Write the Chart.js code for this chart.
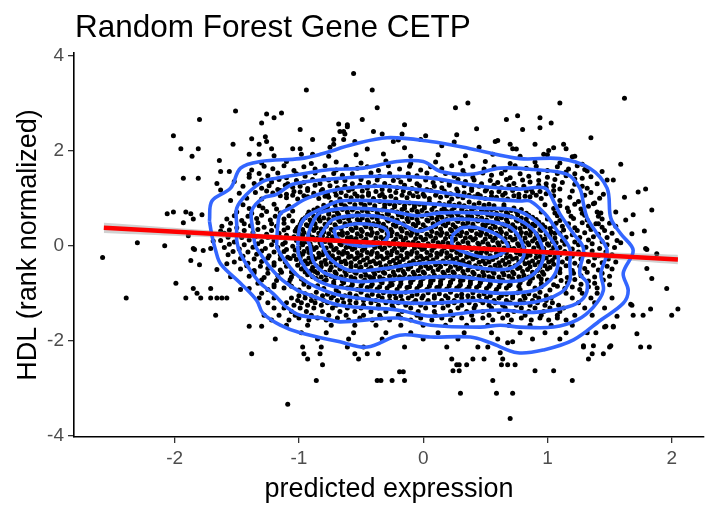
<!DOCTYPE html>
<html><head><meta charset="utf-8">
<script src="https://cdn.jsdelivr.net/npm/chart.js@4.4.0/dist/chart.umd.min.js"></script>
<style>html,body{margin:0;padding:0;background:#fff;}#wrap{width:719px;height:512px;}</style>
</head><body><div id="wrap"><canvas id="c" width="719" height="512"></canvas></div>
<script>
const chartTitle = "Random Forest Gene CETP";
const xAxisTitle = "predicted expression";
const yAxisTitle = "HDL (rank normalized)";
const xTicks = [-2,-1,0,1,2];
const yTicks = [-4,-2,0,2,4];

const outlierPoints = [[-0.56,3.62],[-0.94,3.27],[-1.51,2.83],[-1.26,2.77],[-1.14,2.79],[-1.20,2.69],[-1.30,2.58],[-1.80,2.65],[-2.01,2.31],[-1.95,2.04],[-1.86,1.88],[-1.81,2.04],[-1.93,1.42],[-1.81,1.42],[-1.64,1.79],[-1.63,1.56],[-1.56,1.56],[-1.63,1.17],[-1.66,1.31],[-1.53,2.13],[-1.38,2.25],[-1.32,2.13],[-1.27,2.29],[-1.26,2.19],[-1.22,2.04],[-1.40,1.92],[-1.32,1.92],[-0.99,2.44],[-0.99,2.04],[-0.89,2.23],[-0.89,1.92],[-0.68,2.56],[-0.64,2.40],[-0.61,2.50],[-0.72,2.13],[-0.64,2.23],
[-2.06,0.67],[-2.01,0.71],[-1.91,0.71],[-1.87,0.67],[-1.93,0.48],[-1.85,0.56],[-1.78,0.65],[-2.30,0.06],[-2.08,0.00],[-1.85,-0.06],[-1.77,-0.10],[-1.71,-0.06],[-1.63,0.31],[-1.69,0.10],[-1.89,0.21],
[-2.58,-0.25],[-2.39,-1.10],[-1.99,-0.79],[-1.87,-0.31],[-1.80,-0.40],[-1.91,-1.10],[-1.85,-0.90],[-1.82,-1.00],[-1.79,-1.10],[-1.71,-0.90],[-1.66,-1.10],[-1.62,-1.10],[-1.67,-1.46],[-1.40,-1.69],[-1.30,-1.69],[-1.38,-2.27],[-1.19,-1.96],[-0.97,-2.13],[-0.96,-2.27],[-0.93,-2.38],[-0.82,-2.13],[-0.83,-2.27],[-0.81,-2.50],[-0.86,-2.83],[-1.09,-3.33],[-1.58,-0.38],[-1.66,-0.50],[-1.47,-0.92],[-1.55,-0.65],[-1.84,-0.08],[-1.58,-1.10],[-1.71,-1.10],
[-0.15,-2.13],[-0.55,-2.27],[-0.52,-2.38],[-0.45,-2.27],[-0.36,-2.27],[-0.61,-2.13],[-0.48,-2.13],[-0.19,-2.65],[-0.16,-2.65],[-0.37,-2.83],[-0.34,-2.83],[-0.25,-2.83],[-0.15,-2.83],[0.19,-2.13],[0.23,-2.38],[0.27,-2.50],[0.29,-2.50],[0.35,-2.50],[0.24,-2.63],[0.29,-2.63],[0.40,-2.38],[0.49,-2.38],[0.44,-2.13],[0.52,-2.13],[0.62,-2.25],[0.64,-2.38],[0.63,-2.50],[0.68,-2.50],[0.74,-2.50],[0.56,-2.83],[0.30,-3.10],[0.59,-3.10],[0.72,-3.10],[0.70,-3.63],[0.68,-2.04],[0.72,-2.02],
[1.20,-2.83],[1.05,-2.63],[0.90,-2.63],[1.33,-2.38],[1.36,-2.27],[1.45,-2.27],[1.51,-2.10],[1.29,-2.10],[1.37,-2.10],[1.75,-2.13],[1.82,-2.13],[1.72,-1.85],[1.47,-1.69],[1.53,-1.69],[1.69,-1.46],[1.77,-1.46],[1.83,-1.33],[2.00,-1.46],[2.05,-1.33],[1.96,-0.90],[1.84,-0.69],[1.80,-0.48],[1.56,-1.48],[1.68,-1.25],[1.80,-0.08],[1.88,-0.17],[1.67,-1.23],[1.53,-1.71],[1.46,-1.71],[1.50,-2.13],[1.39,-1.83],[1.32,-1.83],[1.29,-2.13],
[1.62,3.10],[1.10,3.00],[0.76,2.73],[0.67,2.65],[0.94,2.69],[1.03,2.58],[0.80,2.44],[0.94,2.48],[1.35,2.27],[0.70,2.13],[0.90,2.13],[1.13,2.13],[1.01,2.00],[1.15,2.04],[0.97,1.92],[1.22,1.88],[1.59,1.71],[1.44,1.56],[1.48,1.38],[1.53,1.38],[1.62,1.02],[1.73,1.13],[1.79,1.19],[1.84,0.75],[1.69,0.65],[1.55,0.71],[1.63,0.54],[1.78,0.31],[1.68,0.25],[1.79,-0.06],[1.59,0.06],[1.41,0.46],[1.43,0.69],[1.37,0.88],[1.32,1.21],
[-0.41,3.27],[-0.37,2.90],[-0.49,2.65],[0.26,2.90],[0.36,3.00],[-0.15,2.54],[0.43,2.46],[0.27,2.33],[0.02,2.31],[-0.02,2.23],[0.58,2.19],[-0.40,2.40],[-0.33,2.35],[-0.17,2.35],[-0.61,2.54],[-0.67,2.40],[-0.63,2.35],[-0.72,2.23],[0.72,2.04],[-0.24,2.19],[0.15,2.10]];

const ringPoints = [
[-1.10,1.01],[-1.01,0.98],[-0.93,1.03],[-0.84,0.99],[-0.76,1.02],[-0.67,0.98],[-0.58,1.01],[-0.49,1.03],[-0.40,0.99],[-0.31,1.02],[-0.22,0.98],[-0.13,1.01],[-0.04,1.03],[0.05,0.99],[0.14,1.02],[0.23,0.98],[0.32,1.01],[0.41,1.03],[0.50,0.99],[0.59,1.02],[0.68,0.98],[0.77,1.01],[0.86,1.03],[0.95,0.99],
[-1.21,1.11],[-1.10,1.08],[-0.99,1.13],[-0.88,1.10],[-0.77,1.08],[-0.66,1.12],[-0.55,1.09],[-0.44,1.11],[-0.33,1.08],[-0.22,1.12],[-0.11,1.10],[0.00,1.08],[0.11,1.12],[0.22,1.09],[0.33,1.11],[0.44,1.08],[0.55,1.12],[0.66,1.10],[0.77,1.08],[0.88,1.12],[0.99,1.09],
[-1.30,1.21],[-1.17,1.18],[-1.05,1.23],[-0.93,1.20],[-0.81,1.18],[-0.69,1.22],[-0.57,1.19],[-0.45,1.21],[-0.33,1.18],[-0.21,1.22],[-0.09,1.20],[0.03,1.18],[0.15,1.22],[0.27,1.19],[0.39,1.21],[0.51,1.18],[0.63,1.22],[0.75,1.20],[0.87,1.18],[0.99,1.22],[1.10,1.19],
[-1.36,1.31],[-1.22,1.34],[-1.09,1.30],[-0.96,1.33],[-0.83,1.31],[-0.70,1.35],[-0.57,1.30],[-0.44,1.33],[-0.31,1.31],[-0.18,1.34],[-0.05,1.30],[0.08,1.33],[0.21,1.31],[0.34,1.35],[0.47,1.30],[0.60,1.33],[0.73,1.31],[0.86,1.34],[0.99,1.30],[1.12,1.33],[1.22,1.29],
[-1.40,1.44],[-1.25,1.47],[-1.10,1.43],[-0.95,1.46],[-0.80,1.44],[-0.65,1.48],[-0.50,1.43],[-0.35,1.46],[-0.20,1.44],[-0.05,1.47],[0.10,1.43],[0.25,1.46],[0.40,1.44],[0.55,1.48],[0.70,1.43],[0.85,1.46],[1.00,1.44],[1.15,1.47],[1.28,1.42],
[-1.38,1.59],[-1.21,1.62],[-1.04,1.58],[-0.87,1.61],[-0.70,1.59],[-0.53,1.63],[-0.36,1.58],[-0.19,1.61],[-0.02,1.59],[0.15,1.62],[0.32,1.58],[0.49,1.61],[0.66,1.59],[0.83,1.63],[1.00,1.58],[1.17,1.61],[1.32,1.57],
[-1.30,1.74],[-1.10,1.77],[-0.90,1.73],[-0.70,1.76],[-0.50,1.74],[-0.30,1.78],[-0.10,1.73],[0.10,1.76],[0.30,1.74],[0.50,1.77],[0.70,1.73],[0.90,1.76],[1.10,1.74],[1.28,1.71],
[-1.20,1.89],[-0.98,1.92],[-0.76,1.88],[-0.54,1.91],[-0.32,1.93],[-0.10,1.88],[0.12,1.91],[0.34,1.89],[0.56,1.92],[0.78,1.88],[1.00,1.91],[1.20,1.87],
[-1.05,2.04],[-0.75,2.07],[-0.45,2.03],[-0.15,2.06],[0.45,2.07],[0.75,2.03],[1.05,2.06],[-0.55,2.19],[-0.20,2.22],[0.25,2.18],[0.60,2.21],
[-0.95,-1.01],[-0.86,-0.98],[-0.77,-1.02],[-0.68,-0.99],[-0.59,-1.01],[-0.50,-0.98],[-0.41,-1.02],[-0.32,-0.99],[-0.23,-1.01],[-0.14,-0.98],[-0.05,-1.02],[0.04,-0.99],[0.13,-1.01],[0.22,-0.98],[0.31,-1.02],[0.40,-0.99],[0.49,-1.01],[0.58,-0.98],[0.67,-1.02],[0.76,-0.99],[0.85,-1.01],[0.94,-0.98],
[-1.06,-1.1],[-0.95,-1.1],[-0.86,-1.1],[-0.74,-1.1],[-0.65,-1.1],[-0.53,-1.1],[-0.44,-1.1],[-0.33,-1.1],[-0.22,-1.1],[-0.12,-1.1],[-0.01,-1.1],[0.09,-1.1],[0.2,-1.1],[0.31,-1.1],[0.4,-1.1],[0.51,-1.1],[0.61,-1.1],[0.72,-1.1],[0.82,-1.1],[0.93,-1.1],[1.03,-1.1],
[-1.1,-1.2],[-0.98,-1.2],[-0.87,-1.2],[-0.77,-1.2],[-0.64,-1.2],[-0.54,-1.2],[-0.42,-1.2],[-0.3,-1.2],[-0.2,-1.2],[-0.08,-1.2],[0.03,-1.2],[0.15,-1.2],[0.25,-1.2],[0.37,-1.2],[0.48,-1.2],[0.58,-1.2],[0.7,-1.2],[0.81,-1.2],[0.92,-1.2],[1.04,-1.2],
[-1.12,-1.31],[-0.99,-1.31],[-0.88,-1.31],[-0.73,-1.31],[-0.61,-1.31],[-0.5,-1.31],[-0.36,-1.31],[-0.24,-1.31],[-0.1,-1.31],[0.02,-1.31],[0.16,-1.31],[0.28,-1.31],[0.41,-1.31],[0.55,-1.31],[0.66,-1.31],[0.79,-1.31],[0.9,-1.31],[1.02,-1.31],[1.13,-1.31],
[-1.16,-1.46],[-1.03,-1.46],[-0.9,-1.46],[-0.76,-1.46],[-0.62,-1.46],[-0.48,-1.46],[-0.35,-1.46],[-0.2,-1.46],[-0.05,-1.46],[0.1,-1.46],[0.24,-1.46],[0.39,-1.46],[0.53,-1.46],[0.68,-1.46],[0.82,-1.46],[0.95,-1.46],[1.08,-1.46],
[-1.08,-1.56],[-0.92,-1.56],[-0.78,-1.56],[-0.6,-1.56],[-0.41,-1.56],[-0.27,-1.56],[-0.1,-1.56],[0.07,-1.56],[0.22,-1.56],[0.4,-1.56],[0.56,-1.56],[0.71,-1.56],[0.87,-1.56],[1.01,-1.56],[1.15,-1.56],
[-1.1,-1.67],[-0.93,-1.67],[-0.74,-1.67],[-0.55,-1.67],[-0.38,-1.67],[-0.18,-1.67],[0.0,-1.67],[0.18,-1.67],[0.35,-1.67],[0.52,-1.67],[0.69,-1.67],[0.86,-1.67],[1.03,-1.67],[1.2,-1.67],
[-0.98,-1.83],[-0.78,-1.83],[-0.56,-1.83],[-0.3,-1.83],[-0.1,-1.83],[0.12,-1.83],[0.33,-1.83],[0.55,-1.83],[0.78,-1.83],[0.98,-1.83],[1.15,-1.83],
[-0.85,-1.96],[-0.6,-1.96],[-0.33,-1.96],[0.0,-1.96],[0.28,-1.96],[0.6,-1.96],[0.88,-1.96],[1.1,-1.96],
[-1.45,0.86],[-1.32,0.84],[-1.2,0.87],[-1.08,0.83],[-1.5,0.71],[-1.38,0.68],[-1.26,0.72],[-1.15,0.69],[-1.05,0.73],[-1.58,0.56],[-1.46,0.53],[-1.34,0.57],[-1.23,0.54],[-1.12,0.56],[-1.05,0.52],
[-1.62,0.41],[-1.5,0.38],[-1.39,0.42],[-1.28,0.39],[-1.18,0.41],[-1.09,0.38],[-1.6,0.26],[-1.48,0.23],[-1.37,0.27],[-1.26,0.24],[-1.16,0.26],[-1.1,0.22],[-1.63,0.11],[-1.52,0.08],[-1.4,0.12],[-1.3,0.09],[-1.2,0.11],[-1.11,0.07],
[-1.6,-0.04],[-1.48,-0.07],[-1.37,-0.03],[-1.27,-0.06],[-1.17,-0.04],[-1.1,-0.08],[-1.57,-0.19],[-1.45,-0.22],[-1.34,-0.18],[-1.24,-0.21],[-1.15,-0.19],[-1.09,-0.24],[-1.52,-0.34],[-1.41,-0.37],[-1.3,-0.33],[-1.2,-0.36],[-1.11,-0.34],
[-1.47,-0.49],[-1.36,-0.52],[-1.25,-0.48],[-1.15,-0.51],[-1.06,-0.55],[-1.4,-0.64],[-1.28,-0.67],[-1.17,-0.63],[-1.06,-0.66],[-0.98,-0.7],[-1.33,-0.79],[-1.2,-0.82],[-1.08,-0.78],[-0.96,-0.81],[-0.85,-0.84],[-1.25,-0.92],[-1.12,-0.89],[-1.0,-0.93],[-0.8,-0.9],[-0.7,-0.93],
[0.98,0.86],[1.1,0.84],[1.22,0.87],[1.33,0.83],[0.95,0.71],[1.06,0.69],[1.17,0.72],[1.28,0.68],[1.4,0.71],[1.0,0.56],[1.1,0.53],[1.21,0.57],[1.32,0.54],[1.44,0.56],
[1.12,0.41],[1.22,0.38],[1.33,0.42],[1.44,0.39],[1.55,0.41],[1.1,0.26],[1.2,0.23],[1.3,0.27],[1.41,0.24],[1.52,0.26],[1.12,0.11],[1.22,0.08],[1.33,0.12],[1.44,0.09],[1.56,0.11],
[1.1,-0.04],[1.2,-0.07],[1.31,-0.03],[1.42,-0.06],[1.54,-0.04],[1.1,-0.19],[1.2,-0.22],[1.3,-0.18],[1.41,-0.21],[1.52,-0.19],[1.12,-0.34],[1.22,-0.37],[1.33,-0.33],[1.44,-0.36],[1.55,-0.34],
[1.1,-0.49],[1.2,-0.52],[1.3,-0.48],[1.41,-0.51],[1.52,-0.49],[1.06,-0.64],[1.16,-0.67],[1.27,-0.63],[1.38,-0.66],[1.5,-0.64],[0.95,-0.79],[1.05,-0.82],[1.16,-0.78],[1.27,-0.81],[1.38,-0.79],[1.5,-0.82],[0.78,-0.92],[0.9,-0.89],[1.02,-0.93],[1.14,-0.9],[1.26,-0.92],[1.4,-0.89],
[1.05,1.05],[1.18,1.02],[1.3,1.06],[1.42,1.0],[1.1,0.95],[1.25,0.93],[1.38,0.9],[1.2,1.15],[1.35,1.12],[1.45,1.08],[1.28,1.25],[1.4,1.3],[1.22,1.4],[1.35,1.45],[1.15,1.55],[1.3,1.6],
[1.15,-1.0],[1.28,-1.0],[1.4,-1.0],[1.52,-1.1],[1.35,-1.1],[1.2,-1.1],[1.25,-1.2],[1.38,-1.2],[1.46,-1.31],[1.3,-1.31],[1.22,-1.46],[1.36,-1.46],
[-1.3,-1.0],[-1.4,-0.9],[-1.2,-1.1],[-1.32,-1.1],[-1.25,-1.2],[-1.2,-1.31],[-1.28,-1.46],[-1.22,-1.56],
[-1.55,0.95],[-1.42,1.0],[-1.3,0.98],[-1.48,1.1],[-1.35,1.12],[-1.45,1.25],[-1.52,1.35],[-1.4,1.5]];

const ringFillPoints = [
[-1.15,1.05],[-1.05,1.06],[-0.96,1.05],[-0.88,1.06],[-0.79,1.04],[-0.70,1.06],[-0.62,1.05],[-0.53,1.04],[-0.44,1.06],[-0.35,1.05],[-0.26,1.04],[-0.17,1.06],[-0.08,1.05],[0.01,1.04],[0.10,1.06],[0.19,1.05],[0.28,1.04],[0.37,1.06],[0.46,1.05],[0.55,1.04],[0.64,1.06],[0.73,1.05],[0.82,1.04],[0.91,1.06],
[-1.26,1.15],[-1.15,1.16],[-1.04,1.14],[-0.93,1.16],[-0.82,1.15],[-0.71,1.14],[-0.60,1.16],[-0.49,1.15],[-0.38,1.14],[-0.27,1.16],[-0.16,1.15],[-0.05,1.14],[0.06,1.16],[0.17,1.15],[0.28,1.14],[0.39,1.16],[0.50,1.15],[0.61,1.14],[0.72,1.16],[0.83,1.15],[0.94,1.14],[1.05,1.16],
[-1.24,1.26],[-1.11,1.27],[-0.99,1.25],[-0.87,1.27],[-0.75,1.26],[-0.63,1.25],[-0.51,1.27],[-0.39,1.26],[-0.27,1.25],[-0.15,1.27],[-0.03,1.26],[0.09,1.25],[0.21,1.27],[0.33,1.26],[0.45,1.25],[0.57,1.27],[0.69,1.26],[0.81,1.25],[0.93,1.27],[1.05,1.26],
[-1.30,1.38],[-1.16,1.39],[-1.02,1.37],[-0.89,1.39],[-0.76,1.38],[-0.63,1.37],[-0.50,1.39],[-0.37,1.38],[-0.24,1.37],[-0.11,1.39],[0.02,1.38],[0.15,1.37],[0.28,1.39],[0.41,1.38],[0.54,1.37],[0.67,1.39],[0.80,1.38],[0.93,1.37],[1.06,1.39],
[-1.32,1.52],[-1.17,1.53],[-1.02,1.51],[-0.87,1.53],[-0.72,1.52],[-0.57,1.51],[-0.42,1.53],[-0.27,1.52],[-0.12,1.51],[0.03,1.53],[0.18,1.52],[0.33,1.51],[0.48,1.53],[0.63,1.52],[0.78,1.51],[0.93,1.53],[1.08,1.52],[1.22,1.51],
[-1.28,1.67],[-1.12,1.68],[-0.96,1.66],[-0.79,1.68],[-0.62,1.67],[-0.45,1.66],[-0.28,1.68],[-0.11,1.67],[0.06,1.66],[0.23,1.68],[0.40,1.67],[0.57,1.66],[0.74,1.68],[0.91,1.67],[1.08,1.66],[1.24,1.68],
[-1.00,-1.05],[-0.90,-1.05],[-0.81,-1.05],[-0.72,-1.05],[-0.63,-1.05],[-0.54,-1.05],[-0.45,-1.05],[-0.36,-1.05],[-0.27,-1.05],[-0.18,-1.05],[-0.09,-1.05],[0.00,-1.05],[0.09,-1.05],[0.18,-1.05],[0.27,-1.05],[0.36,-1.05],[0.45,-1.05],[0.54,-1.05],[0.63,-1.05],[0.72,-1.05],[0.81,-1.05],[0.90,-1.05],[0.99,-1.05],
[-1.01,-1.15],[-0.90,-1.15],[-0.80,-1.15],[-0.69,-1.15],[-0.59,-1.15],[-0.48,-1.15],[-0.38,-1.15],[-0.27,-1.15],[-0.17,-1.15],[-0.06,-1.15],[0.04,-1.15],[0.15,-1.15],[0.25,-1.15],[0.36,-1.15],[0.46,-1.15],[0.57,-1.15],[0.67,-1.15],[0.78,-1.15],[0.88,-1.15],[0.99,-1.15],
[-1.04,-1.25],[-0.93,-1.25],[-0.82,-1.25],[-0.70,-1.25],[-0.59,-1.25],[-0.48,-1.25],[-0.36,-1.25],[-0.25,-1.25],[-0.14,-1.25],[-0.02,-1.25],[0.09,-1.25],[0.20,-1.25],[0.31,-1.25],[0.42,-1.25],[0.53,-1.25],[0.64,-1.25],[0.75,-1.25],[0.86,-1.25],[0.98,-1.25],[1.09,-1.25],
[-1.06,-1.38],[-0.94,-1.38],[-0.81,-1.38],[-0.67,-1.38],[-0.55,-1.38],[-0.42,-1.38],[-0.30,-1.38],[-0.17,-1.38],[-0.04,-1.38],[0.09,-1.38],[0.22,-1.38],[0.35,-1.38],[0.48,-1.38],[0.61,-1.38],[0.73,-1.38],[0.85,-1.38],[0.97,-1.38],[1.10,-1.38],
[-1.00,-1.52],[-0.85,-1.52],[-0.69,-1.52],[-0.51,-1.52],[-0.34,-1.52],[-0.18,-1.52],[-0.02,-1.52],[0.15,-1.52],[0.31,-1.52],[0.48,-1.52],[0.64,-1.52],[0.79,-1.52],[0.94,-1.52],[1.08,-1.52],
[-1.40,0.78],[-1.29,0.79],[-1.18,0.77],[-1.09,0.79],[-1.52,0.63],[-1.41,0.62],[-1.30,0.64],[-1.19,0.62],[-1.08,0.63],[-1.55,0.47],[-1.44,0.46],[-1.33,0.48],[-1.22,0.46],[-1.12,0.47],[-1.56,0.33],[-1.44,0.32],[-1.33,0.34],[-1.22,0.32],[-1.12,0.33],[-1.57,0.18],[-1.46,0.17],[-1.35,0.19],[-1.25,0.17],[-1.15,0.18],[-1.56,0.03],[-1.44,0.02],[-1.33,0.04],[-1.22,0.02],[-1.13,0.03],[-1.53,-0.12],[-1.41,-0.13],[-1.30,-0.11],[-1.20,-0.13],[-1.12,-0.12],[-1.47,-0.27],[-1.36,-0.28],[-1.25,-0.26],[-1.15,-0.28],[-1.07,-0.27],[-1.42,-0.42],[-1.31,-0.43],[-1.20,-0.41],[-1.10,-0.43],[-1.36,-0.57],[-1.25,-0.58],[-1.14,-0.56],[-1.04,-0.58],[-1.30,-0.72],[-1.18,-0.73],[-1.07,-0.71],[-0.96,-0.74],[-1.20,-0.86],[-1.06,-0.85],[-0.92,-0.87],
[1.05,0.78],[1.16,0.79],[1.27,0.77],[1.08,0.63],[1.19,0.62],[1.30,0.64],[1.41,0.62],[1.07,0.47],[1.17,0.46],[1.28,0.48],[1.39,0.46],[1.50,0.47],[1.13,0.33],[1.24,0.32],[1.35,0.34],[1.46,0.32],[1.15,0.18],[1.26,0.17],[1.37,0.19],[1.48,0.17],[1.14,0.03],[1.25,0.02],[1.36,0.04],[1.48,0.02],[1.14,-0.12],[1.25,-0.13],[1.36,-0.11],[1.47,-0.13],[1.16,-0.27],[1.27,-0.28],[1.38,-0.26],[1.49,-0.28],[1.15,-0.42],[1.26,-0.43],[1.37,-0.41],[1.48,-0.43],[1.10,-0.57],[1.21,-0.58],[1.32,-0.56],[1.44,-0.58],[1.00,-0.72],[1.11,-0.73],[1.22,-0.71],[1.33,-0.74],[1.45,-0.72],[0.95,-0.86],[1.08,-0.85],[1.20,-0.87],[1.33,-0.86]];

const corePoints = [
[-0.74,0.91],[-0.66,0.88],[-0.59,0.92],[-0.50,0.89],[-0.43,0.90],[-0.35,0.93],[-0.27,0.88],[-0.19,0.91],[-0.11,0.90],[-0.03,0.87],[0.05,0.92],[0.13,0.89],[0.21,0.91],[0.29,0.88],[0.37,0.92],[0.45,0.90],[0.53,0.87],
[-0.85,0.79],[-0.77,0.82],[-0.70,0.78],[-0.62,0.81],[-0.55,0.79],[-0.47,0.83],[-0.39,0.78],[-0.31,0.80],[-0.23,0.82],[-0.15,0.78],[-0.07,0.81],[0.01,0.79],[0.09,0.83],[0.17,0.78],[0.25,0.80],[0.33,0.82],[0.41,0.79],[0.49,0.81],[0.57,0.78],[0.65,0.82],[0.73,0.79],
[-0.92,0.71],[-0.84,0.68],[-0.76,0.72],[-0.69,0.69],[-0.61,0.71],[-0.53,0.68],[-0.45,0.72],[-0.37,0.70],[-0.29,0.67],[-0.21,0.71],[-0.13,0.69],[-0.05,0.72],[0.03,0.68],[0.11,0.70],[0.19,0.72],[0.27,0.68],[0.35,0.71],[0.43,0.69],[0.51,0.72],[0.59,0.68],[0.67,0.70],[0.75,0.72],[0.83,0.68],
[-0.95,0.59],[-0.88,0.62],[-0.80,0.58],[-0.72,0.61],[-0.64,0.59],[-0.57,0.62],[-0.49,0.58],[-0.41,0.60],[-0.33,0.62],[-0.25,0.58],[-0.17,0.61],[-0.09,0.59],[-0.01,0.62],[0.07,0.58],[0.15,0.60],[0.23,0.62],[0.31,0.59],[0.39,0.61],[0.47,0.58],[0.55,0.62],[0.63,0.59],[0.71,0.61],[0.79,0.58],[0.88,0.60],
[-0.98,0.51],[-0.90,0.48],[-0.83,0.52],[-0.75,0.49],[-0.67,0.51],[-0.59,0.48],[-0.51,0.52],[-0.44,0.50],[-0.36,0.48],[-0.28,0.52],[-0.20,0.49],[-0.12,0.51],[-0.04,0.48],[0.04,0.52],[0.12,0.50],[0.20,0.48],[0.28,0.51],[0.36,0.49],[0.44,0.52],[0.52,0.48],[0.60,0.51],[0.68,0.49],[0.76,0.52],[0.84,0.48],[0.93,0.50],
[-1.01,0.39],[-0.93,0.42],[-0.86,0.38],[-0.78,0.41],[-0.70,0.39],[-0.62,0.42],[-0.54,0.38],[-0.46,0.40],[-0.38,0.42],[-0.30,0.38],[-0.22,0.41],[-0.14,0.39],[-0.06,0.42],[0.02,0.38],[0.10,0.40],[0.18,0.42],[0.26,0.39],[0.34,0.41],[0.42,0.38],[0.50,0.42],[0.58,0.39],[0.66,0.41],[0.74,0.38],[0.82,0.40],[0.90,0.42],[0.98,0.39],[1.05,0.41],
[-1.03,0.31],[-0.96,0.28],[-0.88,0.32],[-0.80,0.29],[-0.72,0.31],[-0.65,0.28],[-0.57,0.32],[-0.49,0.30],[-0.41,0.28],[-0.33,0.32],[-0.25,0.29],[-0.17,0.31],[-0.09,0.28],[-0.01,0.32],[0.07,0.30],[0.15,0.28],[0.23,0.31],[0.31,0.29],[0.39,0.32],[0.47,0.28],[0.55,0.31],[0.63,0.29],[0.71,0.32],[0.79,0.28],[0.87,0.30],[0.95,0.32],[1.03,0.29],
[-1.04,0.19],[-0.97,0.22],[-0.89,0.18],[-0.81,0.21],[-0.73,0.19],[-0.65,0.22],[-0.58,0.18],[-0.50,0.20],[-0.42,0.22],[-0.34,0.18],[-0.26,0.21],[-0.18,0.19],[-0.10,0.22],[-0.02,0.18],[0.06,0.20],[0.14,0.22],[0.22,0.19],[0.30,0.21],[0.38,0.18],[0.46,0.22],[0.54,0.19],[0.62,0.21],[0.70,0.18],[0.78,0.20],[0.86,0.22],[0.94,0.19],[1.02,0.21],
[-1.02,0.11],[-0.95,0.08],[-0.87,0.12],[-0.79,0.09],[-0.71,0.11],[-0.63,0.08],[-0.55,0.12],[-0.48,0.10],[-0.40,0.08],[-0.32,0.12],[-0.24,0.09],[-0.16,0.11],[-0.08,0.08],[0.00,0.12],[0.08,0.10],[0.16,0.08],[0.24,0.11],[0.32,0.09],[0.40,0.12],[0.48,0.08],[0.56,0.11],[0.64,0.09],[0.72,0.12],[0.80,0.08],[0.88,0.10],[0.96,0.12],[1.04,0.09],
[-1.05,-0.01],[-0.97,0.02],[-0.90,-0.02],[-0.82,0.01],[-0.74,-0.01],[-0.66,0.02],[-0.59,-0.02],[-0.51,0.00],[-0.43,0.02],[-0.35,-0.02],[-0.27,0.01],[-0.19,-0.01],[-0.11,0.02],[-0.03,-0.02],[0.05,0.00],[0.13,0.02],[0.21,-0.01],[0.29,0.01],[0.37,-0.02],[0.45,0.02],[0.53,-0.01],[0.61,0.01],[0.69,-0.02],[0.77,0.00],[0.85,0.02],[0.93,-0.01],[1.01,0.01],
[-1.03,-0.09],[-0.96,-0.12],[-0.88,-0.08],[-0.80,-0.11],[-0.72,-0.09],[-0.64,-0.12],[-0.57,-0.08],[-0.49,-0.10],[-0.41,-0.12],[-0.33,-0.08],[-0.25,-0.11],[-0.17,-0.09],[-0.09,-0.12],[-0.01,-0.08],[0.07,-0.10],[0.15,-0.12],[0.23,-0.09],[0.31,-0.11],[0.39,-0.08],[0.47,-0.12],[0.55,-0.09],[0.63,-0.11],[0.71,-0.08],[0.79,-0.10],[0.87,-0.12],[0.95,-0.09],[1.03,-0.11],
[-1.04,-0.21],[-0.97,-0.18],[-0.89,-0.22],[-0.81,-0.19],[-0.73,-0.21],[-0.65,-0.18],[-0.58,-0.22],[-0.50,-0.20],[-0.42,-0.18],[-0.34,-0.22],[-0.26,-0.19],[-0.18,-0.21],[-0.10,-0.18],[-0.02,-0.22],[0.06,-0.20],[0.14,-0.18],[0.22,-0.21],[0.30,-0.19],[0.38,-0.22],[0.46,-0.18],[0.54,-0.21],[0.62,-0.19],[0.70,-0.22],[0.78,-0.18],[0.86,-0.20],[0.94,-0.22],[1.02,-0.19],
[-1.02,-0.29],[-0.95,-0.32],[-0.87,-0.28],[-0.79,-0.31],[-0.71,-0.29],[-0.63,-0.32],[-0.55,-0.28],[-0.48,-0.30],[-0.40,-0.32],[-0.32,-0.28],[-0.24,-0.31],[-0.16,-0.29],[-0.08,-0.32],[0.00,-0.28],[0.08,-0.30],[0.16,-0.32],[0.24,-0.29],[0.32,-0.31],[0.40,-0.28],[0.48,-0.32],[0.56,-0.29],[0.64,-0.31],[0.72,-0.28],[0.80,-0.30],[0.88,-0.32],[0.96,-0.29],[1.04,-0.31],
[-1.01,-0.41],[-0.93,-0.38],[-0.86,-0.42],[-0.78,-0.39],[-0.70,-0.41],[-0.62,-0.38],[-0.54,-0.42],[-0.46,-0.40],[-0.38,-0.38],[-0.30,-0.42],[-0.22,-0.39],[-0.14,-0.41],[-0.06,-0.38],[0.02,-0.42],[0.10,-0.40],[0.18,-0.38],[0.26,-0.41],[0.34,-0.39],[0.42,-0.42],[0.50,-0.38],[0.58,-0.41],[0.66,-0.39],[0.74,-0.42],[0.82,-0.38],[0.90,-0.40],[0.98,-0.42],[1.05,-0.39],
[-0.98,-0.49],[-0.90,-0.52],[-0.83,-0.48],[-0.75,-0.51],[-0.67,-0.49],[-0.59,-0.52],[-0.51,-0.48],[-0.44,-0.50],[-0.36,-0.52],[-0.28,-0.48],[-0.20,-0.51],[-0.12,-0.49],[-0.04,-0.52],[0.04,-0.48],[0.12,-0.50],[0.20,-0.52],[0.28,-0.49],[0.36,-0.51],[0.44,-0.48],[0.52,-0.52],[0.60,-0.49],[0.68,-0.51],[0.76,-0.48],[0.84,-0.50],[0.92,-0.52],[1.00,-0.49],
[-0.93,-0.61],[-0.85,-0.58],[-0.78,-0.62],[-0.70,-0.59],[-0.62,-0.61],[-0.54,-0.58],[-0.46,-0.62],[-0.39,-0.60],[-0.31,-0.58],[-0.23,-0.62],[-0.15,-0.59],[-0.07,-0.61],[0.01,-0.58],[0.09,-0.62],[0.17,-0.60],[0.25,-0.58],[0.33,-0.61],[0.41,-0.59],[0.49,-0.62],[0.57,-0.58],[0.65,-0.61],[0.73,-0.59],[0.81,-0.62],[0.89,-0.58],[0.97,-0.60],
[-0.86,-0.69],[-0.78,-0.72],[-0.71,-0.68],[-0.63,-0.71],[-0.55,-0.69],[-0.47,-0.72],[-0.40,-0.68],[-0.32,-0.70],[-0.24,-0.72],[-0.16,-0.68],[-0.08,-0.71],[0.00,-0.69],[0.08,-0.72],[0.16,-0.68],[0.24,-0.70],[0.32,-0.72],[0.40,-0.69],[0.48,-0.71],[0.56,-0.68],[0.64,-0.72],[0.72,-0.69],[0.80,-0.71],[0.88,-0.68],[0.95,-0.70],
[-0.72,-0.81],[-0.64,-0.78],[-0.57,-0.82],[-0.49,-0.79],[-0.41,-0.81],[-0.33,-0.78],[-0.25,-0.82],[-0.18,-0.80],[-0.10,-0.78],[-0.02,-0.82],[0.06,-0.79],[0.14,-0.81],[0.22,-0.78],[0.30,-0.82],[0.38,-0.80],[0.46,-0.78],[0.54,-0.81],[0.62,-0.79],[0.70,-0.82],[0.78,-0.78],[0.85,-0.80],
[-0.61,-0.89],[-0.53,-0.92],[-0.45,-0.88],[-0.37,-0.91],[-0.29,-0.89],[-0.21,-0.92],[-0.13,-0.88],[-0.05,-0.90],[0.03,-0.92],[0.11,-0.88],[0.19,-0.91],[0.27,-0.89],[0.35,-0.92],[0.43,-0.88],[0.51,-0.90],[0.59,-0.92],[0.67,-0.89]];

const coreFillPoints = [
[-0.80,0.85],[-0.71,0.86],[-0.63,0.84],[-0.55,0.86],[-0.47,0.85],[-0.39,0.84],[-0.31,0.86],[-0.23,0.85],[-0.15,0.84],[-0.07,0.86],[0.01,0.85],[0.09,0.84],[0.17,0.86],[0.25,0.85],[0.33,0.84],[0.41,0.86],[0.49,0.85],[0.57,0.84],[0.65,0.86],
[-0.88,0.75],[-0.80,0.76],[-0.72,0.74],[-0.65,0.76],[-0.57,0.75],[-0.49,0.74],[-0.41,0.76],[-0.33,0.75],[-0.25,0.74],[-0.17,0.76],[-0.09,0.75],[-0.01,0.74],[0.07,0.76],[0.15,0.75],[0.23,0.74],[0.31,0.76],[0.39,0.75],[0.47,0.74],[0.55,0.76],[0.63,0.75],[0.71,0.74],[0.79,0.76],
[-0.93,0.65],[-0.84,0.64],[-0.76,0.66],[-0.68,0.65],[-0.60,0.64],[-0.52,0.66],[-0.44,0.65],[-0.36,0.64],[-0.28,0.66],[-0.20,0.65],[-0.12,0.64],[-0.04,0.66],[0.04,0.65],[0.12,0.64],[0.20,0.66],[0.28,0.65],[0.36,0.64],[0.44,0.66],[0.52,0.65],[0.60,0.64],[0.68,0.66],[0.76,0.65],[0.85,0.64],
[-0.97,0.55],[-0.91,0.54],[-0.84,0.56],[-0.76,0.55],[-0.68,0.54],[-0.60,0.56],[-0.53,0.55],[-0.45,0.54],[-0.37,0.56],[-0.29,0.55],[-0.21,0.54],[-0.13,0.56],[-0.05,0.55],[0.03,0.54],[0.11,0.56],[0.19,0.55],[0.27,0.54],[0.35,0.56],[0.43,0.55],[0.51,0.54],[0.59,0.56],[0.67,0.55],[0.75,0.54],[0.83,0.56],[0.91,0.55],
[-0.99,0.45],[-0.94,0.44],[-0.87,0.46],[-0.79,0.45],[-0.71,0.44],[-0.63,0.46],[-0.55,0.45],[-0.47,0.44],[-0.40,0.46],[-0.32,0.45],[-0.24,0.44],[-0.16,0.46],[-0.08,0.45],[0.00,0.44],[0.08,0.46],[0.16,0.45],[0.24,0.44],[0.32,0.46],[0.40,0.45],[0.48,0.44],[0.56,0.46],[0.64,0.45],[0.72,0.44],[0.80,0.46],[0.88,0.45],[0.96,0.44],
[-1.02,0.35],[-0.97,0.34],[-0.90,0.36],[-0.82,0.35],[-0.74,0.34],[-0.66,0.36],[-0.58,0.35],[-0.50,0.34],[-0.42,0.36],[-0.34,0.35],[-0.26,0.34],[-0.18,0.36],[-0.10,0.35],[-0.02,0.34],[0.06,0.36],[0.14,0.35],[0.22,0.34],[0.30,0.36],[0.38,0.35],[0.46,0.34],[0.54,0.36],[0.62,0.35],[0.70,0.34],[0.78,0.36],[0.86,0.35],[0.94,0.34],[1.02,0.36],
[-1.00,0.25],[-0.92,0.24],[-0.84,0.26],[-0.76,0.25],[-0.68,0.24],[-0.61,0.26],[-0.53,0.25],[-0.45,0.24],[-0.37,0.26],[-0.29,0.25],[-0.21,0.24],[-0.13,0.26],[-0.05,0.25],[0.03,0.24],[0.11,0.26],[0.19,0.25],[0.27,0.24],[0.35,0.26],[0.43,0.25],[0.51,0.24],[0.59,0.26],[0.67,0.25],[0.75,0.24],[0.83,0.26],[0.91,0.25],[0.99,0.24],[1.06,0.26],
[-1.00,0.15],[-0.93,0.14],[-0.85,0.16],[-0.77,0.15],[-0.69,0.14],[-0.61,0.16],[-0.54,0.15],[-0.46,0.14],[-0.38,0.16],[-0.30,0.15],[-0.22,0.14],[-0.14,0.16],[-0.06,0.15],[0.02,0.14],[0.10,0.16],[0.18,0.15],[0.26,0.14],[0.34,0.16],[0.42,0.15],[0.50,0.14],[0.58,0.16],[0.66,0.15],[0.74,0.14],[0.82,0.16],[0.90,0.15],[0.98,0.14],[1.06,0.16],
[-0.98,0.05],[-0.91,0.04],[-0.83,0.06],[-0.75,0.05],[-0.67,0.04],[-0.59,0.06],[-0.52,0.05],[-0.44,0.04],[-0.36,0.06],[-0.28,0.05],[-0.20,0.04],[-0.12,0.06],[-0.04,0.05],[0.04,0.04],[0.12,0.06],[0.20,0.05],[0.28,0.04],[0.36,0.06],[0.44,0.05],[0.52,0.04],[0.60,0.06],[0.68,0.05],[0.76,0.04],[0.84,0.06],[0.92,0.05],[1.00,0.04],[1.07,0.06],
[-1.00,-0.05],[-0.93,-0.06],[-0.86,-0.04],[-0.78,-0.05],[-0.70,-0.06],[-0.62,-0.04],[-0.55,-0.05],[-0.47,-0.06],[-0.39,-0.04],[-0.31,-0.05],[-0.23,-0.06],[-0.15,-0.04],[-0.07,-0.05],[0.01,-0.06],[0.09,-0.04],[0.17,-0.05],[0.25,-0.06],[0.33,-0.04],[0.41,-0.05],[0.49,-0.06],[0.57,-0.04],[0.65,-0.05],[0.73,-0.06],[0.81,-0.04],[0.89,-0.05],[0.97,-0.06],[1.05,-0.04],
[-1.00,-0.15],[-0.92,-0.14],[-0.84,-0.16],[-0.76,-0.15],[-0.68,-0.14],[-0.61,-0.16],[-0.53,-0.15],[-0.45,-0.14],[-0.37,-0.16],[-0.29,-0.15],[-0.21,-0.14],[-0.13,-0.16],[-0.05,-0.15],[0.03,-0.14],[0.11,-0.16],[0.19,-0.15],[0.27,-0.14],[0.35,-0.16],[0.43,-0.15],[0.51,-0.14],[0.59,-0.16],[0.67,-0.15],[0.75,-0.14],[0.83,-0.16],[0.91,-0.15],[0.99,-0.14],[1.06,-0.16],
[-0.99,-0.25],[-0.92,-0.26],[-0.84,-0.24],[-0.76,-0.25],[-0.68,-0.26],[-0.60,-0.24],[-0.53,-0.25],[-0.45,-0.26],[-0.37,-0.24],[-0.29,-0.25],[-0.21,-0.26],[-0.13,-0.24],[-0.05,-0.25],[0.03,-0.26],[0.11,-0.24],[0.19,-0.25],[0.27,-0.26],[0.35,-0.24],[0.43,-0.25],[0.51,-0.26],[0.59,-0.24],[0.67,-0.25],[0.75,-0.26],[0.83,-0.24],[0.91,-0.25],[0.99,-0.26],[1.06,-0.24],
[-0.98,-0.35],[-0.90,-0.34],[-0.82,-0.36],[-0.74,-0.35],[-0.66,-0.34],[-0.58,-0.36],[-0.51,-0.35],[-0.43,-0.34],[-0.35,-0.36],[-0.27,-0.35],[-0.19,-0.34],[-0.11,-0.36],[-0.03,-0.35],[0.05,-0.34],[0.13,-0.36],[0.21,-0.35],[0.29,-0.34],[0.37,-0.36],[0.45,-0.35],[0.53,-0.34],[0.61,-0.36],[0.69,-0.35],[0.77,-0.34],[0.85,-0.36],[0.93,-0.35],[1.01,-0.34],
[-0.96,-0.45],[-0.89,-0.46],[-0.82,-0.44],[-0.74,-0.45],[-0.66,-0.46],[-0.58,-0.44],[-0.50,-0.45],[-0.42,-0.46],[-0.34,-0.44],[-0.26,-0.45],[-0.18,-0.46],[-0.10,-0.44],[-0.02,-0.45],[0.06,-0.46],[0.14,-0.44],[0.22,-0.45],[0.30,-0.46],[0.38,-0.44],[0.46,-0.45],[0.54,-0.46],[0.62,-0.44],[0.70,-0.45],[0.78,-0.46],[0.86,-0.44],[0.94,-0.45],[1.02,-0.46],
[-0.95,-0.55],[-0.87,-0.54],[-0.79,-0.56],[-0.71,-0.55],[-0.63,-0.54],[-0.55,-0.56],[-0.47,-0.55],[-0.40,-0.54],[-0.32,-0.56],[-0.24,-0.55],[-0.16,-0.54],[-0.08,-0.56],[0.00,-0.55],[0.08,-0.54],[0.16,-0.56],[0.24,-0.55],[0.32,-0.54],[0.40,-0.56],[0.48,-0.55],[0.56,-0.54],[0.64,-0.56],[0.72,-0.55],[0.80,-0.54],[0.88,-0.56],[0.96,-0.55],
[-0.89,-0.65],[-0.82,-0.66],[-0.74,-0.64],[-0.66,-0.65],[-0.58,-0.66],[-0.50,-0.64],[-0.43,-0.65],[-0.35,-0.66],[-0.27,-0.64],[-0.19,-0.65],[-0.11,-0.66],[-0.03,-0.64],[0.05,-0.65],[0.13,-0.66],[0.21,-0.64],[0.29,-0.65],[0.37,-0.66],[0.45,-0.64],[0.53,-0.65],[0.61,-0.66],[0.69,-0.64],[0.77,-0.65],[0.85,-0.66],[0.93,-0.64],
[-0.80,-0.75],[-0.72,-0.76],[-0.65,-0.74],[-0.57,-0.75],[-0.49,-0.76],[-0.42,-0.74],[-0.34,-0.75],[-0.26,-0.76],[-0.18,-0.74],[-0.10,-0.75],[-0.02,-0.76],[0.06,-0.74],[0.14,-0.75],[0.22,-0.76],[0.30,-0.74],[0.38,-0.75],[0.46,-0.76],[0.54,-0.74],[0.62,-0.75],[0.70,-0.76],[0.78,-0.74],[0.86,-0.75],
[-0.66,-0.85],[-0.58,-0.86],[-0.50,-0.84],[-0.42,-0.85],[-0.35,-0.86],[-0.27,-0.84],[-0.19,-0.85],[-0.11,-0.86],[-0.03,-0.84],[0.05,-0.85],[0.13,-0.86],[0.21,-0.84],[0.29,-0.85],[0.37,-0.86],[0.45,-0.84],[0.53,-0.85],[0.61,-0.86],[0.69,-0.84],[0.77,-0.85]];

const contourOuter = [[-1.72,0.52],[-1.70,0.94],[-1.55,1.21],[-1.47,1.63],[-1.31,1.77],[-0.99,1.83],[-0.83,1.92],[-0.56,2.13],[-0.29,2.27],[0.06,2.19],[0.38,2.04],[0.78,1.83],[1.10,1.83],[1.34,1.63],[1.48,1.21],[1.51,0.58],[1.59,0.25],[1.69,-0.10],[1.61,-0.58],[1.65,-0.94],[1.61,-1.21],[1.43,-1.56],[1.21,-1.98],[0.97,-2.19],[0.76,-2.25],[0.54,-2.04],[0.38,-1.92],[0.06,-1.92],[-0.19,-1.88],[-0.45,-2.13],[-0.67,-2.02],[-0.99,-1.83],[-1.15,-1.67],[-1.29,-1.42],[-1.34,-1.15],[-1.47,-0.79],[-1.63,-0.38],[-1.67,-0.10],[-1.70,0.21]];
const contour7 = [[-1.50,0.42],[-1.50,0.79],[-1.42,1.08],[-1.29,1.35],[-1.18,1.42],[-0.99,1.50],[-0.75,1.60],[-0.48,1.63],[-0.21,1.77],[0.00,1.77],[0.14,1.56],[0.38,1.50],[0.62,1.63],[0.89,1.60],[1.16,1.50],[1.26,1.21],[1.29,0.88],[1.32,0.58],[1.40,0.25],[1.48,-0.10],[1.43,-0.58],[1.45,-0.94],[1.37,-1.29],[1.24,-1.56],[1.05,-1.71],[0.78,-1.71],[0.62,-1.67],[0.46,-1.71],[0.06,-1.67],[-0.21,-1.52],[-0.67,-1.60],[-0.81,-1.52],[-0.99,-1.46],[-1.10,-1.29],[-1.21,-1.00],[-1.31,-0.79],[-1.39,-0.52],[-1.47,-0.17],[-1.50,0.10]];
const contour6 = [[-1.37,0.31],[-1.38,0.73],[-1.29,1.00],[-1.18,1.08],[-1.05,1.29],[-0.75,1.40],[-0.35,1.46],[0.06,1.42],[0.46,1.25],[0.78,1.19],[0.98,1.21],[1.06,0.88],[1.10,0.67],[1.21,0.25],[1.29,-0.06],[1.26,-0.58],[1.32,-0.79],[1.29,-1.10],[1.16,-1.29],[0.89,-1.40],[0.62,-1.35],[0.38,-1.40],[0.06,-1.48],[-0.21,-1.35],[-0.67,-1.25],[-0.91,-1.04],[-1.01,-0.94],[-1.13,-0.73],[-1.23,-0.46],[-1.31,-0.17],[-1.35,0.00]];
const contour5 = [[-1.18,0.00],[-1.17,0.42],[-1.15,0.67],[-1.07,0.79],[-0.93,1.00],[-0.67,1.19],[-0.35,1.25],[0.06,1.15],[0.46,1.00],[0.78,0.94],[0.86,0.94],[0.98,0.67],[1.08,0.31],[1.18,-0.06],[1.18,-0.38],[1.18,-0.73],[1.10,-1.00],[0.89,-1.19],[0.62,-1.21],[0.46,-1.15],[0.06,-1.21],[-0.21,-1.19],[-0.67,-1.04],[-0.85,-0.88],[-0.99,-0.67],[-1.07,-0.46],[-1.15,-0.17]];
const contour4 = [[-1.01,0.00],[-0.99,0.42],[-0.93,0.63],[-0.81,0.79],[-0.67,0.94],[-0.35,0.94],[0.06,0.88],[0.46,0.79],[0.70,0.77],[0.82,0.67],[0.92,0.48],[1.02,0.17],[1.08,-0.10],[1.08,-0.46],[1.02,-0.73],[0.89,-0.94],[0.62,-1.00],[0.38,-0.94],[0.06,-0.94],[-0.21,-0.98],[-0.67,-0.88],[-0.85,-0.73],[-0.95,-0.46],[-1.00,-0.21]];
const contour3 = [[-0.91,0.00],[-0.93,0.15],[-0.89,0.48],[-0.83,0.69],[-0.59,0.79],[-0.27,0.73],[-0.05,0.63],[0.14,0.69],[0.43,0.69],[0.62,0.65],[0.76,0.56],[0.88,0.35],[0.94,0.10],[0.97,-0.17],[0.93,-0.48],[0.81,-0.71],[0.62,-0.75],[0.27,-0.65],[0.00,-0.67],[-0.27,-0.71],[-0.53,-0.75],[-0.77,-0.60],[-0.88,-0.35]];
const contour2 = [[-0.83,0.21],[-0.72,0.56],[-0.40,0.63],[-0.19,0.48],[-0.05,0.31],[0.06,0.38],[0.19,0.54],[0.43,0.54],[0.68,0.42],[0.78,0.15],[0.81,-0.21],[0.70,-0.48],[0.43,-0.46],[0.22,-0.35],[-0.05,-0.38],[-0.32,-0.48],[-0.59,-0.52],[-0.75,-0.27],[-0.81,0.00]];
const contourInnerLeft = [[-0.72,0.35],[-0.53,0.46],[-0.32,0.38],[-0.28,0.21],[-0.35,0.04],[-0.53,0.00],[-0.69,0.15]];
const contourInnerRight = [[0.23,0.21],[0.32,0.38],[0.48,0.35],[0.64,0.15],[0.68,-0.06],[0.54,-0.25],[0.35,-0.15],[0.24,0.00]];

const fitX = [-2.57, 2.05];
const fitY = [0.375, -0.29];
const bandX = [-2.57, -1.3, 0, 1, 2.05];
const bandLow = [0.265, 0.13, -0.03, -0.19, -0.39];
const bandHigh = [0.485, 0.25, 0.03, -0.09, -0.19];

const FONT = '"Liberation Sans", Arial, Helvetica, sans-serif';
const toXY = a => a.map(p => ({x: p[0], y: p[1]}));
const closeRing = a => toXY(a.concat([a[0]]));
const contours = [contourOuter, contour7, contour6, contour5, contour4, contour3, contour2, contourInnerLeft, contourInnerRight];

const pointStyle = {pointRadius: 2.5, pointHoverRadius: 2.5, pointBackgroundColor: '#000', pointBorderWidth: 0, showLine: false, order: 10};
const datasets = [
  Object.assign({data: toXY(outlierPoints.concat(ringPoints, ringFillPoints, corePoints, coreFillPoints))}, pointStyle),
  {data: bandX.map((x, i) => ({x, y: bandHigh[i]})), showLine: true, pointRadius: 0, borderWidth: 0, borderColor: 'rgba(0,0,0,0)', backgroundColor: 'rgba(153,153,153,0.45)', fill: '+1', tension: 0.4, order: 3},
  {data: bandX.map((x, i) => ({x, y: bandLow[i]})), showLine: true, pointRadius: 0, borderWidth: 0, borderColor: 'rgba(0,0,0,0)', fill: false, tension: 0.4, order: 3}
];
contours.forEach(c => datasets.push({data: closeRing(c), showLine: true, pointRadius: 0, borderColor: '#3366FF', borderWidth: 3.6, tension: 0.35, fill: false, order: 2}));
datasets.push({data: fitX.map((x, i) => ({x, y: fitY[i]})), showLine: true, pointRadius: 0, borderColor: '#FF0000', borderWidth: 4.5, fill: false, order: 1});

const titlePlugin = {
  id: 'plotTitle',
  afterDraw(chart) {
    const ctx = chart.ctx;
    ctx.save();
    ctx.font = '31.5px ' + FONT;
    ctx.fillStyle = '#000';
    ctx.textBaseline = 'alphabetic';
    ctx.textAlign = 'left';
    ctx.fillText(chartTitle, chart.chartArea.left + 1, 37);
    ctx.restore();
  }
};

new Chart(document.getElementById('c'), {
  type: 'scatter',
  data: {datasets},
  options: {
    responsive: false, animation: false, devicePixelRatio: 1,
    layout: {padding: {top: 53, right: 15, left: 0, bottom: 0}},
    plugins: {legend: {display: false}, tooltip: {enabled: false}, title: {display: false}},
    scales: {
      x: {
        type: 'linear', min: -2.81, max: 2.26,
        afterBuildTicks: s => { s.ticks = xTicks.map(v => ({value: v})); },
        afterFit: s => { s.height = 75; },
        ticks: {font: {size: 19, family: FONT}, color: '#4D4D4D', padding: 4, maxRotation: 0, autoSkip: false, callback: v => String(v)},
        grid: {display: true, drawOnChartArea: false, drawTicks: true, tickLength: 6, color: '#333333', lineWidth: 1.3},
        border: {display: true, color: '#000', width: 1.6},
        title: {display: true, text: xAxisTitle, color: '#000', font: {size: 27, family: FONT}, padding: {top: 0, bottom: 6}}
      },
      y: {
        type: 'linear', min: -4.02, max: 4.05,
        afterBuildTicks: s => { s.ticks = yTicks.map(v => ({value: v})); },
        afterFit: s => { s.width = 74; },
        ticks: {font: {size: 19, family: FONT}, color: '#4D4D4D', padding: 4, autoSkip: false, callback: v => String(v)},
        grid: {display: true, drawOnChartArea: false, drawTicks: true, tickLength: 6, color: '#333333', lineWidth: 1.3},
        border: {display: true, color: '#000', width: 1.6},
        title: {display: true, text: yAxisTitle, color: '#000', font: {size: 27, family: FONT}, padding: {top: 12, bottom: 0}}
      }
    }
  },
  plugins: [titlePlugin]
});
</script></body></html>
